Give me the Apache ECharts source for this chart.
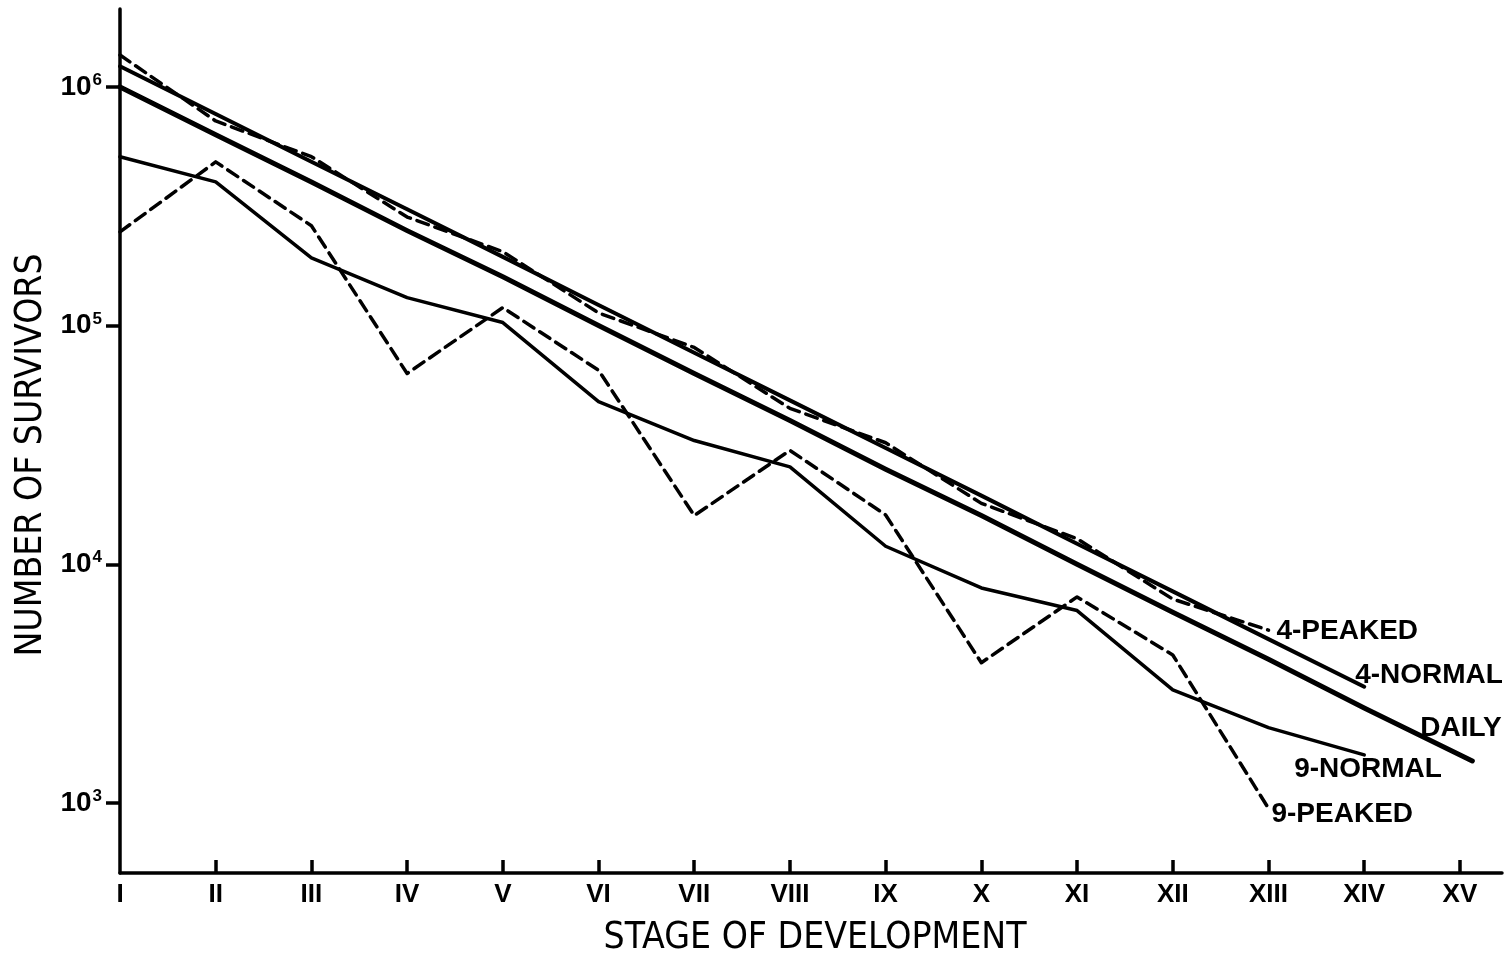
<!DOCTYPE html>
<html>
<head>
<meta charset="utf-8">
<title>Survivors by stage of development</title>
<script src="https://cdn.jsdelivr.net/npm/echarts@6/dist/echarts.min.js"></script>
<style>
  html, body { margin: 0; padding: 0; background: #fff; }
  #chart { width: 1508px; height: 953px; }
</style>
</head>
<body>
<div id="chart"></div>
<script>
// Stage labels (x axis) and their numeric positions
const stages = ['I', 'II', 'III', 'IV', 'V', 'VI', 'VII', 'VIII', 'IX', 'X', 'XI', 'XII', 'XIII', 'XIV', 'XV'];
const stageNo = [1, 2, 3, 4, 5, 6, 7, 8, 9, 10, 11, 12, 13, 14, 15];

// Y tick values (powers of ten) and their exponents
const yTicks = [1e3, 1e4, 1e5, 1e6];
const yExponents = ['3', '4', '5', '6'];

// Number of survivors per feeding regime
const dailyStage = [1, 2, 3, 4, 5, 6, 7, 8, 9, 10, 11, 12, 13, 14, 15.13];
const daily      = [1.0e6, 6.3e5, 4.0e5, 2.5e5, 1.6e5, 1.0e5, 6.3e4, 4.0e4, 2.5e4, 1.6e4, 1.0e4, 6.3e3, 4.0e3, 2.5e3, 1.5e3];
const fourNormal = [1.22e6, 7.7e5, 4.86e5, 3.07e5, 1.94e5, 1.22e5, 7.7e4, 4.86e4, 3.07e4, 1.94e4, 1.22e4, 7.7e3, 4.86e3, 3.07e3];
const fourPeaked = [1.36e6, 7.2e5, 5.1e5, 2.85e5, 2.04e5, 1.13e5, 8.1e4, 4.5e4, 3.23e4, 1.8e4, 1.28e4, 7.15e3, 5.3e3];
const nineNormal = [5.1e5, 4.0e5, 1.92e5, 1.31e5, 1.03e5, 4.8e4, 3.3e4, 2.56e4, 1.19e4, 7.96e3, 6.4e3, 2.98e3, 2.07e3, 1.59e3];
const ninePeaked = [2.47e5, 4.85e5, 2.62e5, 6.3e4, 1.19e5, 6.5e4, 1.6e4, 3.0e4, 1.61e4, 3.87e3, 7.3e3, 4.17e3, 9.5e2];

const INK = '#000';
const LABEL_FONT = "'Liberation Sans', Arial, sans-serif";
const TITLE_FONT = "'Liberation Sans Narrow', 'DejaVu Sans Condensed', 'Liberation Sans', sans-serif";

function pairs(xs, ys) {
  return ys.map((v, i) => [xs[i], v]);
}

function lineSeries(name, xs, ys, width, dashed, labelOffset) {
  return {
    name: name,
    type: 'line',
    data: pairs(xs, ys),
    symbol: 'none',
    smooth: false,
    animation: false,
    lineStyle: {
      color: INK,
      width: width,
      type: dashed ? [12, 7] : 'solid',
      cap: 'round',
      join: 'round'
    },
    endLabel: {
      show: true,
      formatter: name,
      color: INK,
      fontFamily: LABEL_FONT,
      fontWeight: 'bold',
      fontSize: 28,
      distance: 6,
      offset: labelOffset
    },
    emphasis: { disabled: true }
  };
}

const chart = echarts.init(document.getElementById('chart'), null, { renderer: 'canvas' });

chart.setOption({
  backgroundColor: '#fff',
  animation: false,
  grid: { left: 120, right: 6, top: 9, bottom: 80, containLabel: false, outerBoundsMode: 'none' },
  xAxis: {
    type: 'value',
    min: 1,
    max: 15.44,
    interval: 1,
    name: 'STAGE OF DEVELOPMENT',
    nameLocation: 'middle',
    nameGap: 47,
    nameTextStyle: { color: INK, fontFamily: TITLE_FONT, fontSize: 37, padding: [0, 0, 0, 8] },
    axisLine: { show: true, lineStyle: { color: INK, width: 3.5 } },
    axisTick: {
      show: true, inside: true, length: 13,
      lineStyle: { color: INK, width: 3.5 },
      customValues: stageNo.slice(1)
    },
    axisLabel: {
      show: true, margin: 9, color: INK,
      fontFamily: LABEL_FONT, fontSize: 26, fontWeight: 'bold',
      customValues: stageNo,
      formatter: v => stages[Math.round(v) - 1] || ''
    },
    splitLine: { show: false }
  },
  yAxis: {
    type: 'log',
    logBase: 10,
    min: 509,
    max: 2.12e6,
    name: 'NUMBER OF SURVIVORS',
    nameLocation: 'middle',
    nameRotate: 90,
    nameGap: 52,
    nameTextStyle: { color: INK, fontFamily: TITLE_FONT, fontSize: 37, padding: [0, 28, 0, 0] },
    axisLine: { show: true, lineStyle: { color: INK, width: 3.5 } },
    axisTick: {
      show: true, inside: false, length: 14,
      lineStyle: { color: INK, width: 3.5 },
      customValues: yTicks
    },
    axisLabel: {
      show: true, margin: 18, color: INK,
      customValues: yTicks,
      formatter: v => {
        const i = yTicks.findIndex(t => Math.abs(t - v) / t < 1e-6);
        return i < 0 ? '' : '{b|10}{s|' + yExponents[i] + '}';
      },
      rich: {
        b: { fontFamily: LABEL_FONT, fontSize: 28, fontWeight: 'bold', color: INK, lineHeight: 30 },
        s: { fontFamily: LABEL_FONT, fontSize: 17, fontWeight: 'bold', color: INK, verticalAlign: 'top', lineHeight: 16, padding: [0, 0, 12, 1] }
      }
    },
    splitLine: { show: false }
  },
  series: [
    lineSeries('DAILY', dailyStage, daily, 5, false, [-58, -33]),
    lineSeries('4-NORMAL', stageNo, fourNormal, 4, false, [-15, -11]),
    lineSeries('4-PEAKED', stageNo, fourPeaked, 3.5, true, [2, 1]),
    lineSeries('9-NORMAL', stageNo, nineNormal, 3.5, false, [-76, 14]),
    lineSeries('9-PEAKED', stageNo, ninePeaked, 3.5, true, [-3, 6])
  ]
});
</script>
</body>
</html>
